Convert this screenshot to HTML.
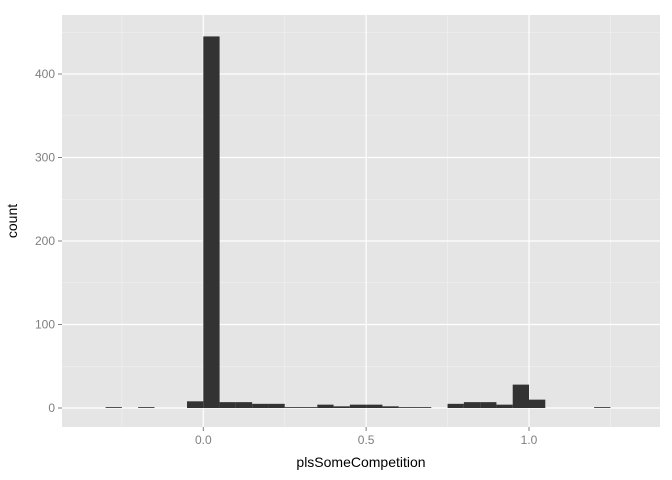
<!DOCTYPE html>
<html><head><meta charset="utf-8"><style>
body{margin:0;background:#fff;}
svg{display:block;font-family:"Liberation Sans",sans-serif;}
</style></head><body>
<svg id="chart" width="672" height="480">
<rect x="62" y="15" width="598" height="412" fill="#e5e5e5"/>
<g id="grid"></g><g id="bars"></g><g id="axes"></g>
<text x="361" y="467" text-anchor="middle" font-size="14" fill="#000">plsSomeCompetition</text>
<text transform="translate(17,221) rotate(-90)" text-anchor="middle" font-size="14" fill="#000">count</text>
</svg>
<script>
const binStarts = [-0.30,-0.20,-0.05,0.00,0.05,0.10,0.15,0.20,0.25,0.30,0.35,0.40,0.45,0.50,0.55,0.60,0.65,0.75,0.80,0.85,0.90,0.95,1.00,1.20];
const counts    = [1,1,8,445,7,7,5,5,1,1,4,2,4,4,2,1,1,5,7,7,4,28,10,1];
const binWidth = 0.05;
const xTicks = [0,0.5,1.0];
const xTickLabels = ["0.0","0.5","1.0"];
const xMinor = [-0.25,0.25,0.75,1.25];
const yTicks = [0,100,200,300,400];
const yMinor = [50,150,250,350,450];
const x = v => 203.3 + v*325.7;
const y = v => 408 - v*0.835;
const NS="http://www.w3.org/2000/svg";
function mk(tag,parent,attrs){const e=document.createElementNS(NS,tag);for(const k in attrs)e.setAttribute(k,attrs[k]);document.getElementById(parent).appendChild(e);return e;}
xMinor.forEach(v=>{const e=mk('line','grid',{x1:x(v),x2:x(v),y1:15,y2:427,stroke:'#f2f2f2','stroke-width':0.6});

});
yMinor.forEach(v=>{const e=mk('line','grid',{x1:62,x2:660,y1:y(v),y2:y(v),stroke:'#f2f2f2','stroke-width':0.6});

});
xTicks.forEach((v,i)=>{const e=mk('line','grid',{x1:x(v),x2:x(v),y1:15,y2:427,stroke:'#fff','stroke-width':1.2});


const t=mk('line','axes',{x1:x(v),x2:x(v),y1:427,y2:431,stroke:'#7f7f7f'});


const l=mk('text','axes',{x:x(v),y:444,'text-anchor':'middle','font-size':12,fill:'#7f7f7f'});l.textContent=xTickLabels[i];

});
yTicks.forEach(v=>{const e=mk('line','grid',{x1:62,x2:660,y1:y(v),y2:y(v),stroke:'#fff','stroke-width':1.2});


const t=mk('line','axes',{x1:58,x2:62,y1:y(v),y2:y(v),stroke:'#7f7f7f'});


const l=mk('text','axes',{x:55,y:y(v)+4,'text-anchor':'end','font-size':12,fill:'#7f7f7f'});l.textContent=v;

});
binStarts.forEach((b,i)=>{const x0=x(b),x1=x(b+binWidth),y0=y(counts[i]);
const r=mk('rect','bars',{x:x0,y:y0,width:x1-x0,height:Math.max(408-y0,0.8),fill:'#333333'});

});
</script>
</body></html>
